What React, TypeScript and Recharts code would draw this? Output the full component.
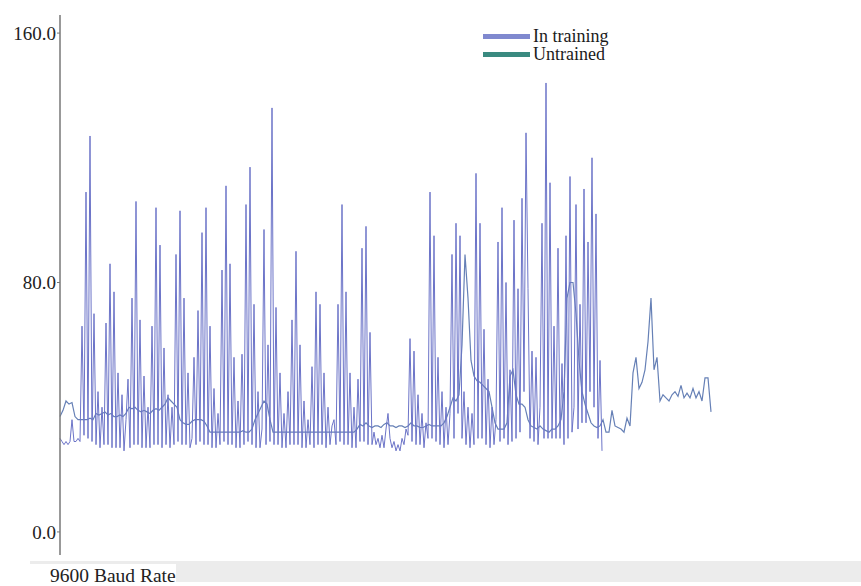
import { LineChart, Line, XAxis, YAxis } from "recharts";

const SERIF = '"Liberation Serif", "Times New Roman", serif';

// sample spacing on the hidden x axis (training is sampled twice as densely)
const TRAINING_STEP = 1;
const UNTRAINED_STEP = 1.5;

const seriesNames = ["In training", "Untrained"];
const legendColors = ["#8089cf", "#3a8a80"];
const yTicks = [0, 80, 160];
const xAxisLabel = "9600 Baud Rate";

const inTraining = [
  30, 29, 28, 29, 28, 29, 36, 29, 29, 30, 29,
  66, 31, 109, 30, 127, 29, 70, 28, 45, 27,
  40, 28, 67, 28, 86, 27, 77, 27, 51, 27,
  44, 26, 36, 49, 27, 75, 28, 106, 28, 68,
  27, 50, 27, 40, 27, 66, 28, 104, 28, 92,
  27, 59, 28, 44, 27, 40, 28, 89, 29, 103,
  28, 75, 28, 51, 27, 30, 56, 28, 71, 29,
  96, 28, 104, 28, 66, 27, 46, 27, 38, 28,
  84, 29, 111, 28, 86, 28, 56, 27, 42, 27,
  57, 28, 105, 29, 117, 28, 73, 27, 45, 27,
  33, 97, 28, 60, 29, 136, 28, 72, 28, 51,
  27, 38, 27, 45, 28, 68, 28, 90, 28, 60,
  27, 42, 27, 36, 28, 53, 27, 77, 28, 73,
  28, 51, 27, 40, 28, 34, 36, 28, 73, 29,
  105, 28, 77, 28, 51, 27, 40, 27, 49, 29,
  91, 29, 98, 28, 64, 28, 32, 28, 30, 27,
  31, 27, 33, 38, 30, 27, 29, 26, 28, 26,
  30, 28, 33, 31, 62, 29, 58, 28, 44, 28,
  38, 27, 35, 30, 109, 30, 95, 29, 56, 28,
  45, 27, 40, 28, 38, 89, 30, 99, 38, 95,
  30, 45, 28, 40, 27, 38, 28, 115, 30, 99,
  30, 65, 28, 49, 27, 40, 28, 36, 93, 29,
  104, 30, 80, 28, 52, 29, 100, 30, 78, 32,
  107, 45, 128, 78, 30, 58, 29, 56, 28, 40,
  99, 30, 144, 30, 112, 30, 66, 30, 91, 30,
  54, 28, 95, 30, 114, 32, 40, 105, 33, 73,
  35, 110, 35, 93, 45, 120, 40, 102, 30, 55,
  26,
];

const untrained = [
  37, 39, 42, 41, 41.5, 37, 36, 36, 36, 36,
  36.5, 36, 38, 37.5, 38, 38.5, 37.5, 38, 37, 37,
  37.5, 37, 38, 40, 39.5, 40, 39, 38.5, 39, 38.5,
  38, 39, 39.5, 39, 40, 41, 43, 42, 41, 40,
  36, 35, 34.5, 34.5, 35.5, 36, 36, 36, 35.5, 34,
  32, 32, 32, 32, 32, 32, 32, 32, 32, 32,
  32, 32.5, 32, 32, 33, 36, 38, 40, 42, 41,
  36, 32, 32, 32, 32, 32, 32, 32, 32, 32,
  32, 32, 32, 32, 32, 32, 32, 32, 32, 32,
  32, 32, 32, 32, 32, 32, 32, 32, 32, 33,
  34.5, 34, 35, 34, 33.5, 34, 34, 33.5, 34.5, 35,
  34, 34, 33.5, 34, 34, 33.5, 34, 35, 34, 34,
  33.5, 33.5, 34, 34.5, 34, 34, 34, 34, 35, 37,
  40, 43, 42, 44, 60, 89, 75, 55, 50, 48.5,
  48, 47, 46, 45, 40, 35, 33, 33, 33, 35,
  50, 52, 44, 41, 41, 40, 36, 34, 33.5, 33,
  34, 33, 32.5, 32, 33, 33, 34, 36, 45, 75,
  80, 80, 70, 55, 45, 41, 38, 35, 34, 33.5,
  34, 36, 32, 32, 39, 34, 33.5, 33, 32, 36.5,
  34, 51, 56, 46, 48, 52, 61, 75, 52, 56,
  42, 44, 43, 42, 44, 45, 43.5, 47, 43, 44.5,
  43, 46, 43, 45, 42, 49.4, 49.4, 38.5,
];

const trainingData = inTraining.map((v, i) => ({ t: i * TRAINING_STEP, v }));
const untrainedData = untrained.map((v, i) => ({ t: i * UNTRAINED_STEP, v }));

function ChartLegend() {
  return (
    <div
      style={{
        position: "absolute",
        left: 483,
        top: 27,
        fontFamily: SERIF,
        fontSize: 18,
        color: "#1a1a1a",
      }}
    >
      {seriesNames.map((name, i) => (
        <div
          key={name}
          style={{ display: "flex", alignItems: "center", height: 18.6, lineHeight: "17px" }}
        >
          <span
            style={{
              display: "inline-block",
              width: 47,
              height: 5,
              background: legendColors[i],
              marginRight: 3,
            }}
          />
          <span>{name}</span>
        </div>
      ))}
    </div>
  );
}

export default function App() {
  return (
    <div style={{ position: "fixed", left: 0, top: 0, width: 861, height: 586, background: "#fff" }}>
      <LineChart width={861} height={586} margin={{ top: 15, right: 9, bottom: 31, left: 0 }}>
        <XAxis dataKey="t" type="number" domain={[0, 396]} hide height={0} />
        <YAxis
          type="number"
          domain={[-7.4, 165.8]}
          ticks={yTicks}
          width={60}
          tickFormatter={(v: number) => v.toFixed(1)}
          tick={{ fontFamily: SERIF, fontSize: 19, fill: "#222" }}
          tickSize={3}
          tickMargin={1}
          axisLine={{ stroke: "#777", strokeWidth: 1.5 }}
          tickLine={{ stroke: "#777" }}
        />
        <Line
          data={untrainedData}
          dataKey="v"
          name={seriesNames[1]}
          type="linear"
          stroke="#6680b6"
          strokeWidth={1.2}
          dot={false}
          isAnimationActive={false}
        />
        <Line
          data={trainingData}
          dataKey="v"
          name={seriesNames[0]}
          type="linear"
          stroke="#6c74c8"
          strokeWidth={1}
          dot={false}
          isAnimationActive={false}
        />
      </LineChart>
      <ChartLegend />
      <div style={{ position: "absolute", left: 30, top: 561, width: 831, height: 3, background: "#ececec" }} />
      <div style={{ position: "absolute", left: 176, top: 561, width: 685, height: 21, background: "#ececec" }} />
      <div
        style={{
          position: "absolute",
          left: 50,
          top: 566,
          fontFamily: SERIF,
          fontSize: 19.5,
          lineHeight: "20px",
          color: "#222",
          whiteSpace: "nowrap",
        }}
      >
        {xAxisLabel}
      </div>
    </div>
  );
}
